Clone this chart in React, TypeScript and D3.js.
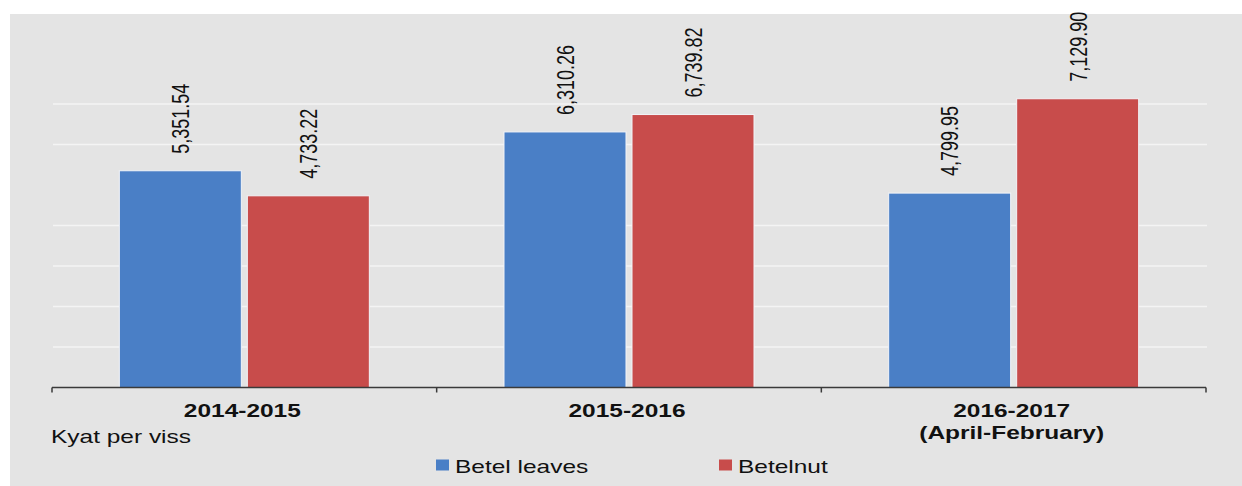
import * as d3 from "d3";

const WIDTH = 1242;
const HEIGHT = 486;
// the source picture is stretched sideways, so text is too
const SX = 1.36;
const FONT = "'Liberation Sans', Arial, sans-serif";

const PANEL = { left: 10, top: 14 };
const PLOT = { left: 52, right: 1206, bottom: 387.5, top: 63.5 };

const CATEGORIES = ["2014-2015", "2015-2016", "2016-2017"];
const CATEGORY_LINES = [["2014-2015"], ["2015-2016"], ["2016-2017", "(April-February)"]];
const SERIES = ["Betel leaves", "Betelnut"];
const BETEL_LEAVES = [5351.54, 6310.26, 4799.95];
const BETELNUT = [4733.22, 6739.82, 7129.9];
// the 5,000 line is not drawn in the source
const GRID_TICKS = [1000, 2000, 3000, 4000, 6000, 7000];
const COLORS = ["#4a7fc6", "#c84c4b"];
const UNIT = "Kyat per viss";

const VALUES = [BETEL_LEAVES, BETELNUT];

export default function App() {
  const x0 = d3
    .scaleBand<string>()
    .domain(CATEGORIES)
    .range([PLOT.left, PLOT.right])
    .padding(0);

  const x1 = d3
    .scaleBand<string>()
    .domain(SERIES)
    .range([0, x0.bandwidth()])
    .paddingInner(0.047)
    .paddingOuter(0.526);

  const y = d3.scaleLinear().domain([0, 8000]).range([PLOT.bottom, PLOT.top]);

  const fmt = d3.format(",.2f");

  // axis tick positions at band edges
  const edges = [...CATEGORIES.map((c) => x0(c)!), PLOT.right];

  return (
    <svg
      width={WIDTH}
      height={HEIGHT}
      style={{ position: "absolute", left: 0, top: 0, background: "#ffffff" }}
      fontFamily={FONT}
    >
      <rect
        x={PANEL.left}
        y={PANEL.top}
        width={WIDTH - PANEL.left}
        height={HEIGHT - PANEL.top}
        fill="#e4e4e4"
      />

      {/* gridlines */}
      {GRID_TICKS.map((t) => (
        <line
          key={t}
          x1={PLOT.left + 1}
          x2={PLOT.right + 1}
          y1={y(t)}
          y2={y(t)}
          stroke="#f4f4f4"
          strokeWidth={1.5}
        />
      ))}

      {/* bars */}
      {CATEGORIES.map((c, i) => (
        <g key={c} transform={`translate(${x0(c)},0)`}>
          {SERIES.map((s, j) => {
            const v = VALUES[j][i];
            const bx = x1(s)!;
            const cx = bx + x1.bandwidth() / 2;
            const top = y(v);
            return (
              <g key={s}>
                <rect
                  x={bx}
                  y={top}
                  width={x1.bandwidth()}
                  height={y(0) - top}
                  fill={COLORS[j]}
                  stroke="#f2f4f8"
                  strokeWidth={1}
                />
                <text
                  transform={`translate(${cx},${top - 17}) scale(${SX},1) rotate(-90)`}
                  dy="0.36em"
                  fontSize={18}
                  fill="#111"
                >
                  {fmt(v)}
                </text>
              </g>
            );
          })}
        </g>
      ))}

      {/* x axis */}
      <line
        x1={PLOT.left}
        x2={PLOT.right}
        y1={PLOT.bottom}
        y2={PLOT.bottom}
        stroke="#3a3a3a"
        strokeWidth={1.5}
      />
      {edges.map((ex, i) => (
        <line
          key={i}
          x1={ex}
          x2={ex}
          y1={PLOT.bottom}
          y2={PLOT.bottom + 5}
          stroke="#3a3a3a"
          strokeWidth={1.5}
        />
      ))}

      {CATEGORIES.map((c, i) => (
        <g key={c}>
          {CATEGORY_LINES[i].map((line, k) => (
            <text
              key={k}
              transform={`translate(${x0(c)! + x0.bandwidth() / 2 - 2},${416.5 + k * 22}) scale(${SX},1)`}
              textAnchor="middle"
              fontSize={18}
              fontWeight="bold"
              fill="#111"
            >
              {line}
            </text>
          ))}
        </g>
      ))}

      <text
        transform={`translate(51,443) scale(${SX},1)`}
        fontSize={18}
        fill="#111"
      >
        {UNIT}
      </text>

      {/* legend */}
      {SERIES.map((s, j) => {
        const lx = [436, 719][j];
        return (
          <g key={s}>
            <rect x={lx} y={459.5} width={13} height={11} fill={COLORS[j]} />
            <text
              transform={`translate(${lx + 19},472.5) scale(${SX},1)`}
              fontSize={18}
              fill="#111"
            >
              {s}
            </text>
          </g>
        );
      })}
    </svg>
  );
}
